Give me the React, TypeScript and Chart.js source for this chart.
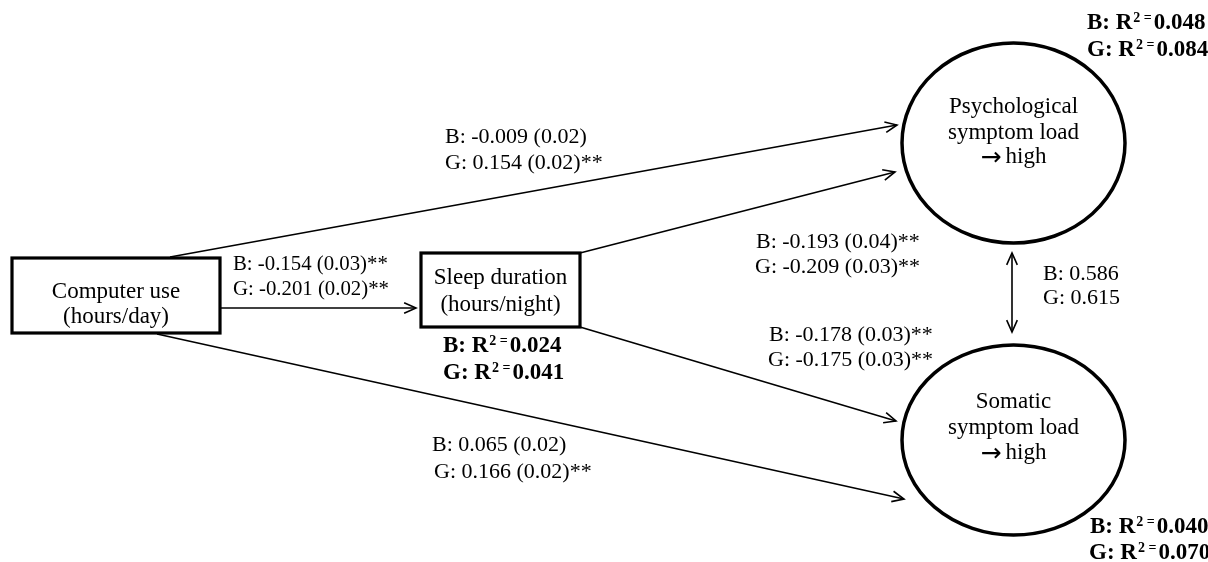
import React, { useEffect, useRef } from "react";
import { Chart, registerables } from "chart.js";
Chart.register(...registerables);

// ---------------- DATA ----------------
const pathNames = ["Computer→Psych", "Computer→Sleep", "Sleep→Psych", "Sleep→Somatic", "Computer→Somatic", "Psych↔Somatic"];
const boysBeta = [-0.009, -0.154, -0.193, -0.178, 0.065, 0.586];
const boysSE: (number | null)[] = [0.02, 0.03, 0.04, 0.03, 0.02, null];
const boysSig = ["", "**", "**", "**", "", ""];
const girlsBeta = [0.154, -0.201, -0.209, -0.175, 0.166, 0.615];
const girlsSE: (number | null)[] = [0.02, 0.02, 0.03, 0.03, 0.02, null];
const girlsSig = ["**", "**", "**", "**", "**", ""];

const outcomeNames = ["Sleep duration", "Psychological symptom load", "Somatic symptom load"];
const boysR2 = [0.024, 0.048, 0.04];
const girlsR2 = [0.041, 0.084, 0.07];

const boxLabels = [["Computer use", "(hours/day)"], ["Sleep duration", "(hours/night)"]];
const ellipseLabels = [["Psychological", "symptom load", "\u2192 high"], ["Somatic", "symptom load", "\u2192 high"]];

// ---------------- LAYOUT (diagram space = pixels) ----------------
const W = 1208;
const H = 562;
const BOXES = [
  [12, 258, 220, 333],
  [421, 253, 580, 327],
];
const ELLIPSES = [
  [1013.5, 143, 111.5, 100],
  [1013.5, 440, 111.5, 95],
];
// x1,y1,x2,y2, arrow at start, arrow at end
const EDGES: [number, number, number, number, boolean, boolean][] = [
  [170, 257, 897, 125, false, true],
  [220, 308, 416, 308, false, true],
  [580, 253, 895, 172, false, true],
  [580, 327, 896, 421, false, true],
  [157, 334, 904, 499, false, true],
  [1012, 253, 1012, 332, true, true],
];
// B line (left x, center y), G line (left x, center y), font size
const EDGE_LABEL_POS = [
  [445, 137, 445, 163, 22],
  [233, 265, 233, 290, 20.8],
  [756, 242, 755, 267, 22],
  [769, 335, 768, 360, 22],
  [432, 445, 434, 472, 22],
  [1043, 274, 1043, 298, 22],
];
const R2_POS = [
  [443, 346, 443, 373],
  [1087, 23, 1087, 50],
  [1090, 527, 1089, 553],
];
const BOX_TEXT_Y = [[292, 317], [278, 305]];
const ELL_TEXT_Y = [[107, 133, 157], [402, 428, 453]];

const FONT = "'Liberation Serif', 'Times New Roman', serif";
const ARROW_FONT = "'DejaVu Sans', sans-serif";

function fmtEdge(prefix: string, beta: number, se: number | null, sig: string) {
  const b = beta.toFixed(3);
  return se == null ? `${prefix}: ${b}` : `${prefix}: ${b} (${se.toFixed(2)})${sig}`;
}

export default function App() {
  const ref = useRef<HTMLCanvasElement>(null);
  useEffect(() => {
    const canvas = ref.current!;
    const datasets = EDGES.map((e, i) => ({
      label: pathNames[i],
      data: [
        { x: e[0], y: e[1] },
        { x: e[2], y: e[3] },
      ],
      showLine: true,
      borderColor: "#000",
      backgroundColor: "#000",
      borderWidth: 1.6,
      pointRadius: 0,
      fill: false,
    }));

    const plugin = {
      id: "pathDiagram",
      afterDatasetsDraw(chart: any) {
        const ctx: CanvasRenderingContext2D = chart.ctx;
        const xs = chart.scales.x;
        const ys = chart.scales.y;
        const px = (v: number) => xs.getPixelForValue(v);
        const py = (v: number) => ys.getPixelForValue(v);
        ctx.save();
        ctx.strokeStyle = "#000";
        ctx.fillStyle = "#000";

        // arrowheads
        const head = (tx: number, ty: number, fx: number, fy: number) => {
          const ang = Math.atan2(ty - fy, tx - fx);
          const L = 13;
          const a = 0.42;
          ctx.beginPath();
          ctx.moveTo(tx - L * Math.cos(ang - a), ty - L * Math.sin(ang - a));
          ctx.lineTo(tx, ty);
          ctx.lineTo(tx - L * Math.cos(ang + a), ty - L * Math.sin(ang + a));
          ctx.lineWidth = 1.6;
          ctx.stroke();
        };
        EDGES.forEach((e) => {
          const x1 = px(e[0]), y1 = py(e[1]), x2 = px(e[2]), y2 = py(e[3]);
          if (e[5]) head(x2, y2, x1, y1);
          if (e[4]) head(x1, y1, x2, y2);
        });

        // boxes
        ctx.lineWidth = 3.2;
        BOXES.forEach((b) => {
          const x0 = px(b[0]), y0 = py(b[1]), x1 = px(b[2]), y1 = py(b[3]);
          ctx.fillStyle = "#fff";
          ctx.fillRect(x0, y0, x1 - x0, y1 - y0);
          ctx.strokeRect(x0, y0, x1 - x0, y1 - y0);
        });
        // ellipses
        ctx.lineWidth = 3.5;
        ELLIPSES.forEach((el) => {
          const cx = px(el[0]), cy = py(el[1]);
          const rx = px(el[0] + el[2]) - cx;
          const ry = Math.abs(py(el[1] + el[3]) - cy);
          ctx.beginPath();
          ctx.ellipse(cx, cy, rx, ry, 0, 0, Math.PI * 2);
          ctx.stroke();
        });

        ctx.fillStyle = "#000";
        ctx.textBaseline = "middle";
        // node labels
        const nodeText = (t: string, cx: number, y: number) => {
          if (t.startsWith("\u2192")) {
            const arrow = "\u2192";
            const rest = t.slice(1).trim();
            ctx.font = `25px ${ARROW_FONT}`;
            const aw = ctx.measureText(arrow).width;
            ctx.font = `23px ${FONT}`;
            const rw = ctx.measureText(rest).width;
            const gap = 4;
            const total = aw + gap + rw;
            const x0 = cx - total / 2;
            ctx.textAlign = "left";
            ctx.font = `25px ${ARROW_FONT}`;
            ctx.fillText(arrow, x0, y + 1);
            ctx.font = `23px ${FONT}`;
            ctx.fillText(rest, x0 + aw + gap, y);
          } else {
            ctx.font = `23px ${FONT}`;
            ctx.textAlign = "center";
            ctx.fillText(t, cx, y);
          }
        };
        BOXES.forEach((b, i) => {
          const cx = px((b[0] + b[2]) / 2);
          boxLabels[i].forEach((t, j) => nodeText(t, cx, py(BOX_TEXT_Y[i][j])));
        });
        ELLIPSES.forEach((el, i) => {
          const cx = px(el[0]);
          ellipseLabels[i].forEach((t, j) => nodeText(t, cx, py(ELL_TEXT_Y[i][j])));
        });

        // edge labels
        ctx.textAlign = "left";
        EDGE_LABEL_POS.forEach((p, i) => {
          ctx.font = `${p[4]}px ${FONT}`;
          ctx.fillText(fmtEdge("B", boysBeta[i], boysSE[i], boysSig[i]), px(p[0]), py(p[1]));
          ctx.fillText(fmtEdge("G", girlsBeta[i], girlsSE[i], girlsSig[i]), px(p[2]), py(p[3]));
        });

        // R2 labels (bold with superscript)
        const r2 = (prefix: string, val: number, x: number, y: number) => {
          ctx.font = `bold 23px ${FONT}`;
          const a = `${prefix}: R`;
          ctx.fillText(a, x, y);
          let cx = x + ctx.measureText(a).width + 1;
          ctx.font = `bold 14px ${FONT}`;
          const s = "2 =";
          ctx.fillText(s, cx, y - 5);
          cx += ctx.measureText(s).width + 2;
          ctx.font = `bold 23px ${FONT}`;
          ctx.fillText(val.toFixed(3), cx, y);
        };
        R2_POS.forEach((p, i) => {
          r2("B", boysR2[i], px(p[0]), py(p[1]));
          r2("G", girlsR2[i], px(p[2]), py(p[3]));
        });
        ctx.restore();
      },
    };

    const chart = new Chart(canvas, {
      type: "scatter",
      data: { datasets: datasets as any },
      options: {
        responsive: false,
        maintainAspectRatio: false,
        animation: false,
        layout: { padding: 0 },
        plugins: {
          legend: { display: false },
          tooltip: { enabled: false },
          title: { display: false },
        },
        scales: {
          x: { type: "linear", min: 0, max: W, display: false },
          y: { type: "linear", min: 0, max: H, reverse: true, display: false },
        },
      },
      plugins: [plugin],
    });
    return () => chart.destroy();
  }, []);

  return (
    <div style={{ position: "fixed", left: 0, top: 0, width: W, height: H, background: "#fff" }}>
      <canvas ref={ref} width={W} height={H} style={{ width: W, height: H, display: "block" }} />
    </div>
  );
}
